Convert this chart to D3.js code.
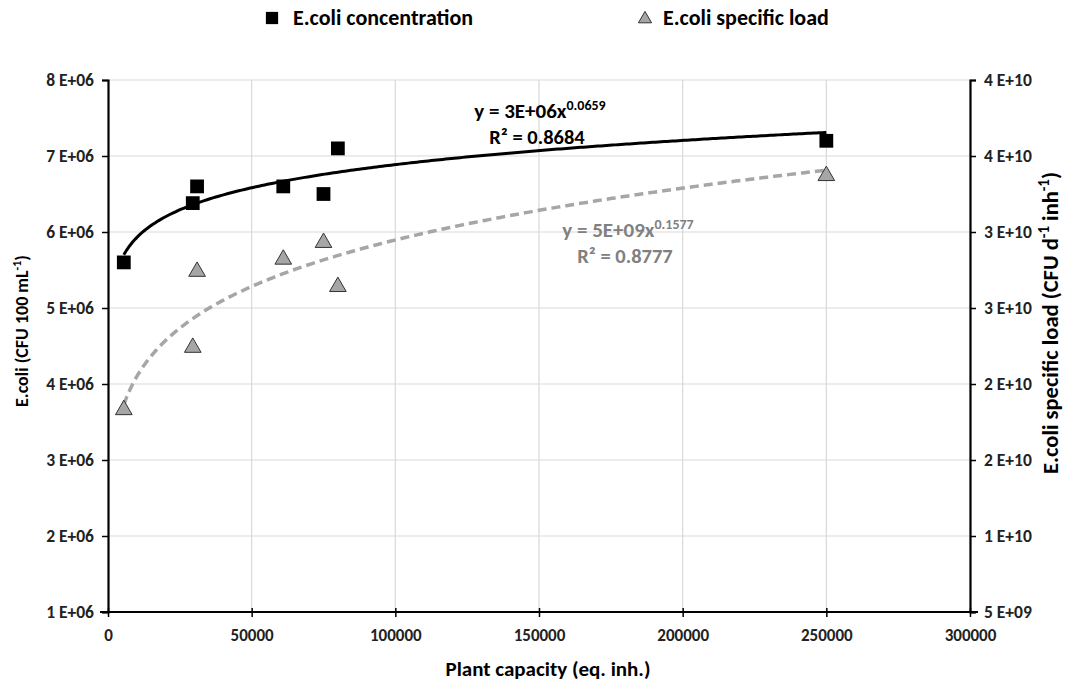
<!DOCTYPE html>
<html>
<head>
<meta charset="utf-8">
<script src="https://cdn.jsdelivr.net/npm/d3@7"></script>
<style>
	body { margin: 0; background: #fff; }
	svg text { font-family: Carlito, Lato, "Open Sans", sans-serif; font-weight: bold; }
</style>
</head>
<body>
<div id="chart"></div>
<script>
// plant capacity (eq. inh.)
var capacity = [5500, 29500, 31000, 61000, 75000, 80000, 250000];
// E.coli concentration (CFU 100 mL-1)
var concentration = [5.6e6, 6.38e6, 6.6e6, 6.6e6, 6.5e6, 7.1e6, 7.2e6];
// E.coli specific load (CFU d-1 inh-1)
var specificLoad = [1.83e10, 2.24e10, 2.74e10, 2.82e10, 2.93e10, 2.64e10, 3.37e10];

var xTicks = [0, 50000, 100000, 150000, 200000, 250000, 300000];
var leftTicks = [1e6, 2e6, 3e6, 4e6, 5e6, 6e6, 7e6, 8e6];
var rightTicks = [5e9, 1e10, 1.5e10, 2e10, 2.5e10, 3e10, 3.5e10, 4e10];

var W = 1071, H = 685;
var margins = {top: 80, bottom: 73, left: 108, right: 101};
var width = W - margins.left - margins.right,
	height = H - margins.top - margins.bottom;

var svg = d3.select("#chart").append("svg")
	.attr("width", W)
	.attr("height", H);

var g = svg.append("g")
	.attr("transform", "translate(" + margins.left + "," + margins.top + ")");

var x = d3.scaleLinear().domain([0, 300000]).range([0, width]);
var yL = d3.scaleLinear().domain([1e6, 8e6]).range([height, 0]);
var yR = d3.scaleLinear().domain([5e9, 4e10]).range([height, 0]);

// excel style "0 E+00"
function sci(v) {
	var e = Math.floor(Math.log10(v));
	var m = Math.round(v / Math.pow(10, e));
	if (m == 10) { m = 1; e++; }
	return m + " E+" + (e < 10 ? "0" + e : e);
}

// grid
g.append("g").selectAll("line").data(xTicks.slice(1, -1))
	.enter().append("line")
	.attr("x1", function(d) { return x(d); }).attr("x2", function(d) { return x(d); })
	.attr("y1", 0).attr("y2", height)
	.attr("stroke", "#d9d9d9").attr("stroke-width", 1.2);
g.append("g").selectAll("line").data(leftTicks.slice(1))
	.enter().append("line")
	.attr("x1", 0).attr("x2", width)
	.attr("y1", function(d) { return yL(d); }).attr("y2", function(d) { return yL(d); })
	.attr("stroke", "#d9d9d9").attr("stroke-width", 1.2);
g.append("line").attr("x1", width).attr("x2", width).attr("y1", 0).attr("y2", height)
	.attr("stroke", "#d9d9d9");

// axes
var xAxis = g.append("g")
	.attr("transform", "translate(0," + height + ")")
	.call(d3.axisBottom(x).tickValues(xTicks).tickFormat(d3.format("d")).tickSize(5).tickPadding(12));
var leftAxis = g.append("g")
	.call(d3.axisLeft(yL).tickValues(leftTicks).tickFormat(sci).tickSize(6).tickPadding(8));
var rightAxis = g.append("g")
	.attr("transform", "translate(" + width + ",0)")
	.call(d3.axisRight(yR).tickValues(rightTicks).tickFormat(sci).tickSize(6).tickPadding(8));

[xAxis, leftAxis, rightAxis].forEach(function(a) {
	a.select(".domain").attr("stroke", "#000").attr("stroke-width", 2.2);
	a.selectAll(".tick line").attr("stroke", "#000").attr("stroke-width", 1.5);
	a.selectAll("text").attr("font-size", 17.5).attr("fill", "#222");
});
xAxis.selectAll("text").attr("font-size", 17);
xAxis.select(".domain").attr("d", "M-8,0H" + (width + 8));
xAxis.selectAll(".tick line").attr("y1", -4);

// power trend fitted in log space
function powerFit(xs, ys) {
	var lx = xs.map(Math.log), ly = ys.map(Math.log);
	var mx = d3.mean(lx), my = d3.mean(ly);
	var b = d3.sum(lx, function(v, i) { return (v - mx) * (ly[i] - my); }) / d3.sum(lx, function(v) { return (v - mx) * (v - mx); });
	var a = Math.exp(my - b * mx);
	return function(v) { return a * Math.pow(v, b); };
}

var xs = d3.range(capacity[0], capacity[capacity.length - 1] + 1, 1000);
xs.push(capacity[capacity.length - 1]);

var fitC = powerFit(capacity, concentration);
var fitL = powerFit(capacity, specificLoad);

g.append("path")
	.attr("d", d3.line().x(function(d) { return x(d); }).y(function(d) { return yR(fitL(d)); })(xs))
	.attr("fill", "none").attr("stroke", "#a6a6a6").attr("stroke-width", 3.5)
	.attr("stroke-dasharray", "9,5");
g.append("path")
	.attr("d", d3.line().x(function(d) { return x(d); }).y(function(d) { return yL(fitC(d)); })(xs))
	.attr("fill", "none").attr("stroke", "#000").attr("stroke-width", 3);

// markers
g.append("g").selectAll("path").data(capacity)
	.enter().append("path")
	.attr("d", d3.symbol().type(d3.symbolSquare).size(190))
	.attr("transform", function(d, i) { return "translate(" + x(d) + "," + yL(concentration[i]) + ")"; })
	.attr("fill", "#000");
g.append("g").selectAll("path").data(capacity)
	.enter().append("path")
	.attr("d", d3.symbol().type(d3.symbolTriangle).size(120))
	.attr("transform", function(d, i) { return "translate(" + x(d) + "," + yR(specificLoad[i]) + ")"; })
	.attr("fill", "#a6a6a6").attr("stroke", "#333").attr("stroke-width", 1);

// equations
function equation(cx, cy, txt, exp, r2, color) {
	var t = svg.append("text").attr("x", cx).attr("y", cy).attr("text-anchor", "middle")
		.attr("font-size", 21).attr("fill", color);
	t.append("tspan").text(txt);
	t.append("tspan").attr("font-size", 14).attr("dy", -8).text(exp);
	svg.append("text").attr("x", cx - 3).attr("y", cy + 26).attr("text-anchor", "middle")
		.attr("font-size", 20.5).attr("fill", color).text("R² = " + r2);
}
equation(540, 118, "y = 3E+06x", "0.0659", "0.8684", "#000");
equation(628, 237, "y = 5E+09x", "0.1577", "0.8777", "#808080");

// legend
var legend = svg.append("g");
legend.append("path").attr("d", d3.symbol().type(d3.symbolSquare).size(150))
	.attr("transform", "translate(272,18)").attr("fill", "#000");
legend.append("text").attr("x", 293).attr("y", 25).attr("font-size", 22).text("E.coli concentration");
legend.append("path").attr("d", d3.symbol().type(d3.symbolTriangle).size(75))
	.attr("transform", "translate(645,19)").attr("fill", "#a6a6a6").attr("stroke", "#333");
legend.append("text").attr("x", 663).attr("y", 25).attr("font-size", 22).text("E.coli specific load");

// axis titles
svg.append("text").attr("x", 548).attr("y", 676).attr("text-anchor", "middle")
	.attr("font-size", 21).text("Plant capacity (eq. inh.)");

var lt = svg.append("text").attr("transform", "translate(28,331) rotate(-90)")
	.attr("text-anchor", "middle").attr("font-size", 18);
lt.append("tspan").text("E.coli (CFU 100 mL");
lt.append("tspan").attr("font-size", 12).attr("dy", -7).text("-1");
lt.append("tspan").attr("dy", 7).text(")");

var rt = svg.append("text").attr("transform", "translate(1058,323) rotate(-90)")
	.attr("text-anchor", "middle").attr("font-size", 22.5);
rt.append("tspan").text("E.coli specific load (CFU d");
rt.append("tspan").attr("font-size", 15).attr("dy", -9).text("-1");
rt.append("tspan").attr("dy", 9).text(" inh");
rt.append("tspan").attr("font-size", 15).attr("dy", -9).text("-1");
rt.append("tspan").attr("dy", 9).text(")");
</script>
</body>
</html>
